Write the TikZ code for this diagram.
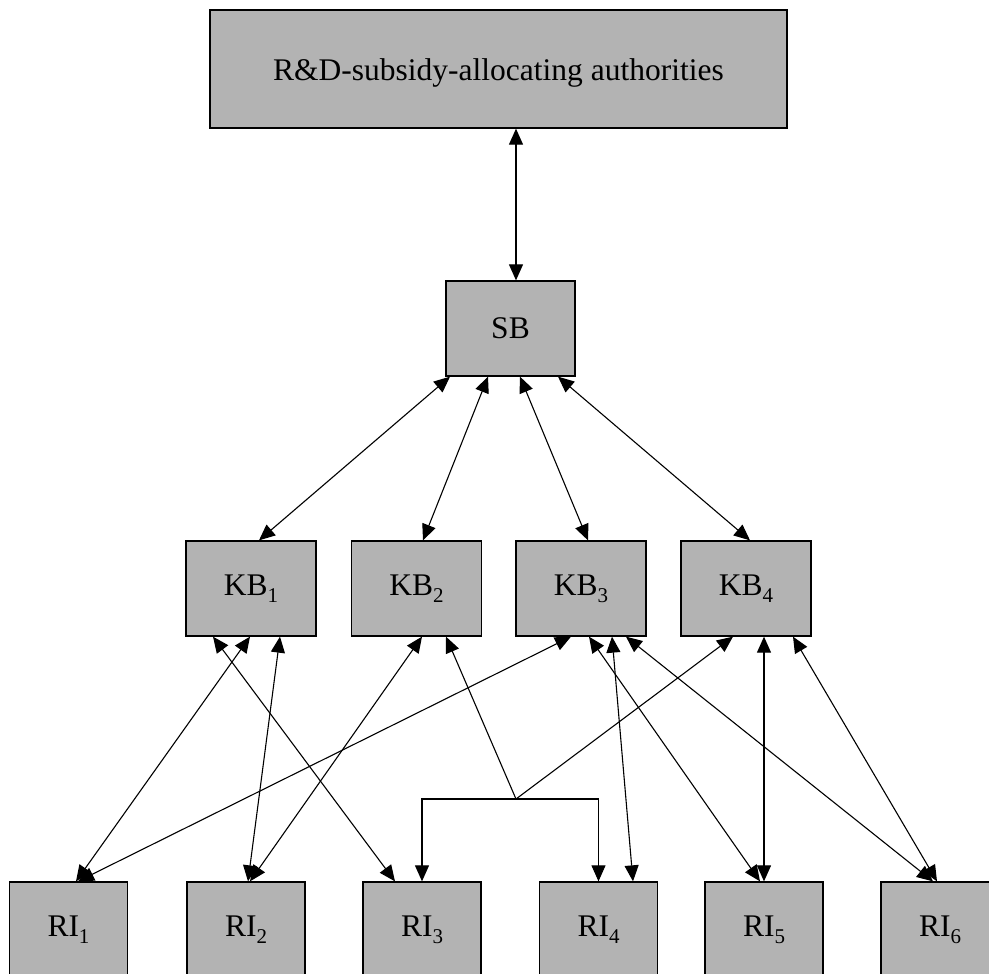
\documentclass[tikz,border=0pt]{standalone}
\usepackage{fontspec}
\setmainfont{Liberation Serif}
\usetikzlibrary{arrows.meta}
\newcommand\lowsub[1]{\raisebox{-7pt}{\fontsize{21}{21}\selectfont #1}}
\definecolor{boxgray}{HTML}{B3B3B3}
\begin{document}
\begin{tikzpicture}[x=1pt,y=-1pt,
  box/.style={rectangle, draw=black, line width=1.3pt, fill=boxgray, inner sep=0pt,
              font=\fontsize{31.5}{36}\selectfont},
  sbox/.style={box, minimum width=129pt, minimum height=95pt},
  kbox/.style={box, minimum width=130pt, minimum height=95pt},
  rbox/.style={box, minimum width=118pt, minimum height=95pt},
  conn/.style={line width=1.1pt, {Triangle[length=16pt,width=14pt]}-{Triangle[length=16pt,width=14pt]}},
  half/.style={line width=1.1pt, -{Triangle[length=16pt,width=14pt]}}
]
\useasboundingbox (0,0) rectangle (989,974);
\clip (0,0) rectangle (989,974);

% nodes
\node[box, minimum width=577pt, minimum height=118pt, text depth=2pt] (top) at (498.5,69) {\raisebox{-4pt}{R\&D-subsidy-allocating authorities}};
\node[sbox] (SB) at (510.5,328.5) {SB};
\node[kbox] (KB1) at (251,588.5) {KB\lowsub{1}};
\node[kbox] (KB2) at (416.5,588.5) {KB\lowsub{2}};
\node[kbox] (KB3) at (581,588.5) {KB\lowsub{3}};
\node[kbox] (KB4) at (746,588.5) {KB\lowsub{4}};
\node[rbox] (RI1) at (68.5,929.5) {RI\lowsub{1}};
\node[rbox] (RI2) at (246,929.5) {RI\lowsub{2}};
\node[rbox] (RI3) at (422,929.5) {RI\lowsub{3}};
\node[rbox] (RI4) at (598.5,929.5) {RI\lowsub{4}};
\node[rbox] (RI5) at (764,929.5) {RI\lowsub{5}};
\node[rbox] (RI6) at (940,929.5) {RI\lowsub{6}};
\coordinate (J) at (516,799);

% top <-> SB
\draw[conn] ([xshift=17.5pt]top.south) -- ([xshift=5.5pt]SB.north);

% SB <-> KB
\draw[conn] ([xshift=-60.5pt]SB.south) -- ([xshift=8pt]KB1.north);
\draw[conn] ([xshift=-22.5pt]SB.south) -- ([xshift=6.5pt]KB2.north);
\draw[conn] ([xshift=9.5pt]SB.south) -- ([xshift=7pt]KB3.north);
\draw[conn] ([xshift=47.5pt]SB.south) -- ([xshift=4pt]KB4.north);

% KB <-> RI
\draw[conn] ([xshift=-1pt]KB1.south) -- ([xshift=7.5pt]RI1.north);
\draw[conn] ([xshift=-10pt]KB3.south) -- ([xshift=9.5pt]RI1.north);
\draw[conn] ([xshift=29pt]KB1.south) -- ([xshift=2pt]RI2.north);
\draw[conn] ([xshift=5.5pt]KB2.south) -- ([xshift=4pt]RI2.north);
\draw[conn] ([xshift=-38pt]KB1.south) -- ([xshift=-27pt]RI3.north);
\draw[conn] ([xshift=31pt]KB3.south) -- ([xshift=34.5pt]RI4.north);
\draw[conn] ([xshift=8pt]KB3.south) -- ([xshift=-4pt]RI5.north);
\draw[conn] ([xshift=18pt]KB4.south) -- (RI5.north);
\draw[conn] ([xshift=45pt]KB3.south) -- ([xshift=-7pt]RI6.north);
\draw[conn] ([xshift=47pt]KB4.south) -- ([xshift=-3pt]RI6.north);

% junction connector
\draw[half] (J) -- ([xshift=29.5pt]KB2.south);
\draw[half] (J) -- ([xshift=-13pt]KB4.south);
\draw[half] (J) -| (RI3.north);
\draw[half] (J) -| (RI4.north);
\end{tikzpicture}
\end{document}
